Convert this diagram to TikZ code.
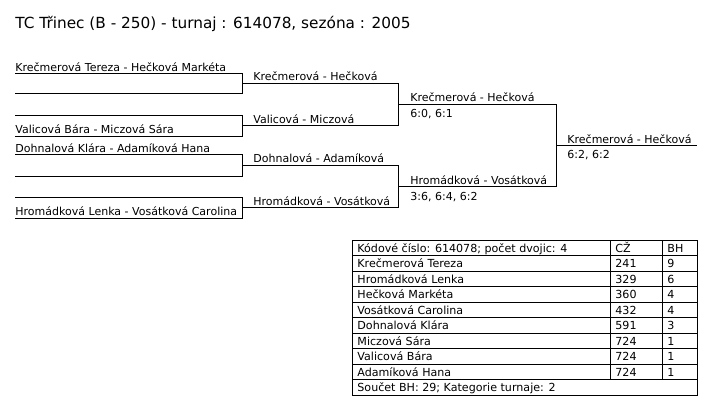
\documentclass[tikz,border=0pt]{standalone}
\usepackage{fontspec}
\setmainfont{DejaVu Sans}
\begin{document}
\begin{tikzpicture}[x=1pt,y=-1pt,line width=0.85pt,
  lbl/.style={anchor=base west,inner sep=0pt,font=\fontsize{11}{13}\selectfont},
  tbl/.style={anchor=base west,inner sep=0pt,font=\fontsize{11.1}{13}\selectfont},
  ttl/.style={anchor=base west,inner sep=0pt,font=\fontsize{15.3}{18}\selectfont}]
\useasboundingbox (0,0) rectangle (726,420);

\node[ttl] (title) at (15,29) {TC Třinec (B - 250) - turnaj : 614078, sezóna : 2005};

% round 1 coordinates
\coordinate (a1) at (15,73.5);  \coordinate (a2) at (242,73.5);
\coordinate (a3) at (242,93.5); \coordinate (a4) at (15,93.5);
\coordinate (b1) at (15,115);   \coordinate (b2) at (242,115);
\coordinate (b3) at (242,136);  \coordinate (b4) at (15,136);
\coordinate (c1) at (15,154.5); \coordinate (c2) at (242,154.5);
\coordinate (c3) at (242,176);  \coordinate (c4) at (15,176);
\coordinate (d1) at (15,197);   \coordinate (d2) at (242,197);
\coordinate (d3) at (242,218);  \coordinate (d4) at (15,218);
\draw (a1) -- (a2) -- (a3) -- (a4);
\draw (b1) -- (b2) -- (b3) -- (b4);
\draw (c1) -- (c2) -- (c3) -- (c4);
\draw (d1) -- (d2) -- (d3) -- (d4);

% round 2
\coordinate (e1) at (242,83.5);  \coordinate (e2) at (398,83.5);
\coordinate (f1) at (242,125.5); \coordinate (f2) at (398,125.5);
\coordinate (g1) at (242,165);   \coordinate (g2) at (398,165);
\coordinate (h1) at (242,207.5); \coordinate (h2) at (398,207.5);
\draw (e1) -- (e2) -- (f2) -- (f1);
\draw (g1) -- (g2) -- (h2) -- (h1);

% round 3
\coordinate (i1) at (398,104.5); \coordinate (i2) at (556,104.5);
\coordinate (j1) at (398,186.5); \coordinate (j2) at (556,186.5);
\draw (i1) -- (i2) -- (j2) -- (j1);

% final
\coordinate (k1) at (556,145.5); \coordinate (k2) at (697,145.5);
\draw (k1) -- (k2);

% labels round 1
\node[lbl] (p1) at (15,71) {Krečmerová Tereza - Hečková Markéta};
\node[lbl] (p2) at (15,133.5) {Valicová Bára - Miczová Sára};
\node[lbl] (p3) at (15,152) {Dohnalová Klára - Adamíková Hana};
\node[lbl] (p4) at (15,215.5) {Hromádková Lenka - Vosátková Carolina};
% round 2
\node[lbl] (q1) at (253,81) {Krečmerová - Hečková};
\node[lbl] (q2) at (253,123) {Valicová - Miczová};
\node[lbl] (q3) at (253,162.5) {Dohnalová - Adamíková};
\node[lbl] (q4) at (253,205) {Hromádková - Vosátková};
% round 3
\node[lbl] (s1) at (410,102) {Krečmerová - Hečková};
\node[lbl] (s1r) at (410,117.5) {6:0, 6:1};
\node[lbl] (s2) at (410,184) {Hromádková - Vosátková};
\node[lbl] (s2r) at (410,200) {3:6, 6:4, 6:2};
% final
\node[lbl] (w) at (567,143) {Krečmerová - Hečková};
\node[lbl] (wr) at (567,158.5) {6:2, 6:2};

% table
\begin{scope}[line width=0.8pt]
\draw (352,240) rectangle (697,395);
\foreach \k in {1,...,9} { \draw (352,{240+15.5*\k}) -- (697,{240+15.5*\k}); }
\draw (610,240) -- (610,379.5);
\draw (662,240) -- (662,379.5);
\end{scope}
\foreach [count=\k from 0] \n/\c/\b in {%
  {Kódové číslo: 614078; počet dvojic: 4}/CŽ/BH,
  {Krečmerová Tereza}/241/9,
  {Hromádková Lenka}/329/6,
  {Hečková Markéta}/360/4,
  {Vosátková Carolina}/432/4,
  {Dohnalová Klára}/591/3,
  {Miczová Sára}/724/1,
  {Valicová Bára}/724/1,
  {Adamíková Hana}/724/1} {
  \node[tbl] (tn\k) at (357,{240+15.5*(\k+1)-3.5}) {\n};
  \node[tbl] (tc\k) at (615,{240+15.5*(\k+1)-3.5}) {\c};
  \node[tbl] (tb\k) at (667,{240+15.5*(\k+1)-3.5}) {\b};
}
\node[tbl] (tsum) at (357,{395-3.5}) {Součet BH: 29; Kategorie turnaje: 2};
\end{tikzpicture}
\end{document}
